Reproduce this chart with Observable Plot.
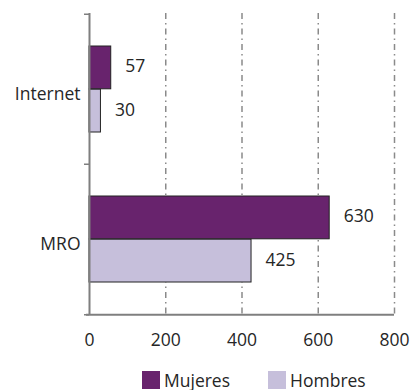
<!DOCTYPE html>
<html>
<head>
<meta charset="utf-8">
<script src="https://cdn.jsdelivr.net/npm/d3@7"></script>
<script src="https://cdn.jsdelivr.net/npm/@observablehq/plot@0.6"></script>
<style>
  body { margin: 0; background: #fff; font-family: "Open Sans", sans-serif; }
  #legend { display: flex; align-items: center; padding-top: 10px; padding-left: 142px; font-size: 17.5px; color: #262626; height: 20px; }
  .item { display: flex; align-items: center; margin-right: 38px; }
  .sw { width: 18px; height: 18px; margin-right: 4px; }
</style>
</head>
<body>
<div id="chart"></div>
<div id="legend"></div>
<script>
const categories = ["Internet", "MRO"];
const series = ["Mujeres", "Hombres"];
const mujeres = [57, 630];
const hombres = [30, 425];
const xTicks = [0, 200, 400, 600, 800];
const colors = ["#68236d", "#c6bfdb"];

const rowsM = categories.map((c, i) => ({category: c, series: series[0], value: mujeres[i]}));
const rowsH = categories.map((c, i) => ({category: c, series: series[1], value: hombres[i]}));

const half = 150.5 / 2;
const chart = Plot.plot({
  width: 414,
  height: 360,
  marginLeft: 89,
  marginRight: 20,
  marginTop: 13,
  marginBottom: 46,
  style: {fontFamily: "Open Sans, sans-serif", fontSize: "17.5px", color: "#262626", background: "#fff"},
  x: {domain: [0, 800]},
  y: {domain: categories, padding: 0},
  marks: [
    Plot.ruleX(xTicks.slice(1), {stroke: "#8a8a8a", strokeWidth: 1.5, strokeDasharray: "6,4,1.5,4"}),
    Plot.barX(rowsM, {y: "category", x: "value", fill: colors[0], stroke: "#222", strokeWidth: 1, insetTop: 32, insetBottom: 75.2}),
    Plot.barX(rowsH, {y: "category", x: "value", fill: colors[1], stroke: "#222", strokeWidth: 1, insetTop: 75.2, insetBottom: 32}),
    Plot.text(rowsM, {y: "category", x: "value", text: d => String(d.value), dx: 14, dy: -23, textAnchor: "start", fill: "#262626", fontSize: 17.5}),
    Plot.text(rowsH, {y: "category", x: "value", text: d => String(d.value), dx: 14, dy: 21, textAnchor: "start", fill: "#262626", fontSize: 17.5}),
    Plot.ruleX([0], {stroke: "#7f7f7f", strokeWidth: 2}),
    Plot.ruleY([categories[categories.length - 1]], {dy: half, stroke: "#7f7f7f", strokeWidth: 2, insetLeft: -3}),
    Plot.ruleY(categories, {x1: 0, x2: 0, dy: -half, insetLeft: -5, stroke: "#7f7f7f", strokeWidth: 1.5}),
    Plot.ruleY([categories[categories.length - 1]], {x1: 0, x2: 0, dy: half, insetLeft: -5, stroke: "#7f7f7f", strokeWidth: 1.5}),
    Plot.axisX({ticks: xTicks, tickSize: 0, tickPadding: 19, label: null, fontSize: 17.5}),
    Plot.axisY({tickSize: 0, tickPadding: 9, dy: 5, label: null, fontSize: 17.5})
  ]
});
document.getElementById("chart").appendChild(chart);

const legend = document.getElementById("legend");
series.forEach((s, i) => {
  const item = document.createElement("div");
  item.className = "item";
  const sw = document.createElement("div");
  sw.className = "sw";
  sw.style.background = colors[i];
  const t = document.createElement("span");
  t.textContent = s;
  item.appendChild(sw);
  item.appendChild(t);
  legend.appendChild(item);
});
</script>
</body>
</html>
